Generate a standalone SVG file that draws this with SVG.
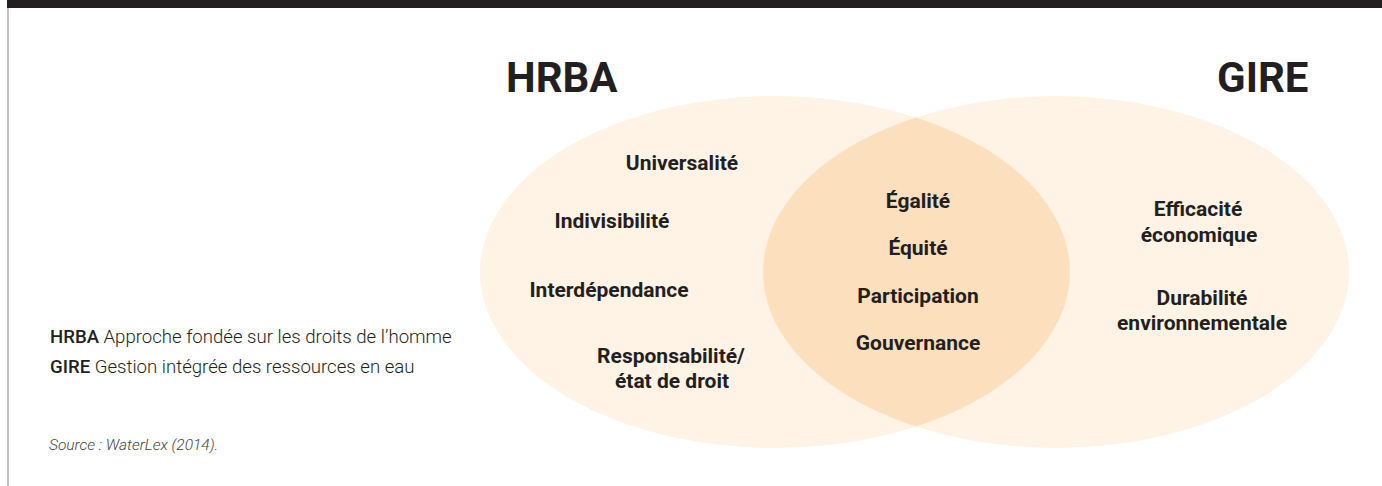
<svg xmlns="http://www.w3.org/2000/svg" width="1382" height="486" viewBox="0 0 1382 486">
<style>
.h{font-family:Roboto,"Liberation Sans",sans-serif;font-weight:700;font-size:42px;fill:#231f20}
.l{font-family:Roboto,"Liberation Sans",sans-serif;font-weight:700;font-size:21px;fill:#231f20;text-anchor:middle}
.g{font-family:Roboto,"Liberation Sans",sans-serif;font-weight:300;font-size:18.6px;fill:#231f20}
.g tspan.b{font-weight:500}
.s{font-family:Roboto,"Liberation Sans",sans-serif;font-weight:300;font-style:italic;font-size:15.5px;fill:#444}
.c{fill:#fef3e5}
</style>
<defs>
<clipPath id="cl"><ellipse cx="775" cy="272" rx="295" ry="176"/></clipPath>
</defs>
<rect x="0" y="0" width="1382" height="486" fill="#ffffff"/>
<rect x="7" y="0" width="1375" height="8" fill="#231f20"/>
<line x1="8" y1="8" x2="8" y2="486" stroke="#9a9a9a" stroke-width="1.2"/>
<g id="hrba">
<ellipse class="c" cx="775" cy="272" rx="295" ry="176"/>
<text class="h" x="506" y="92">HRBA</text>
</g>
<g id="gire">
<ellipse class="c" cx="1056" cy="272" rx="293" ry="176"/>
<text class="h" x="1217" y="92">GIRE</text>
</g>
<g id="overlap">
<ellipse cx="1056" cy="272" rx="293" ry="176" fill="#fce0be" clip-path="url(#cl)"/>
<text class="l" x="918" y="208">Égalité</text>
<text class="l" x="918" y="255">Équité</text>
<text class="l" x="918" y="303">Participation</text>
<text class="l" x="918" y="350">Gouvernance</text>
</g>
<g id="hrba-labels">
<text class="l" x="682" y="170">Universalité</text>
<text class="l" x="612" y="228">Indivisibilité</text>
<text class="l" x="609" y="297">Interdépendance</text>
<text class="l" x="671" y="363">Responsabilité/</text>
<text class="l" x="672" y="388">état de droit</text>
</g>
<g id="gire-labels">
<text class="l" x="1198" y="216">Efficacité</text>
<text class="l" x="1199" y="242">économique</text>
<text class="l" x="1202" y="305">Durabilité</text>
<text class="l" x="1202" y="330">environnementale</text>
</g>
<g id="legend">
<text class="g" x="50" y="343"><tspan class="b">HRBA</tspan> Approche fondée sur les droits de l’homme</text>
<text class="g" x="50" y="373"><tspan class="b">GIRE</tspan> Gestion intégrée des ressources en eau</text>
<text class="s" x="49" y="450">Source : WaterLex (2014).</text>
</g>
</svg>
